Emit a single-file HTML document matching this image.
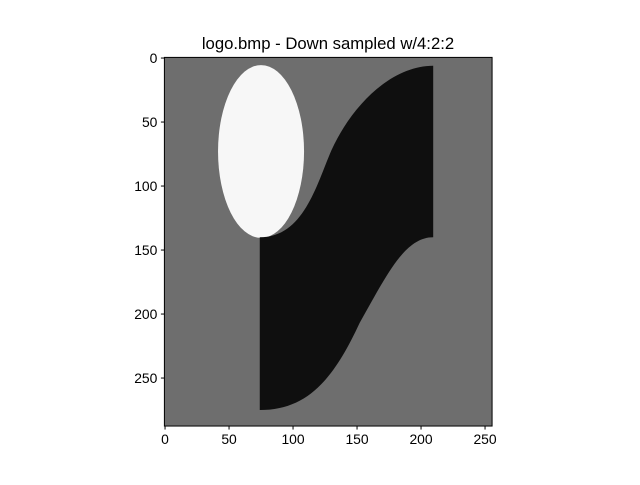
<!DOCTYPE html>
<html><head><meta charset="utf-8"><style>
body{margin:0;background:#fff;width:640px;height:480px;overflow:hidden;font-family:"Liberation Sans","DejaVu Sans",sans-serif}
</style></head><body>
<svg width="640" height="480" id="svg">
<text x="328" y="49" font-size="16.7" text-anchor="middle">logo.bmp - Down sampled w/4:2:2</text>
<g id="img"></g>
<g id="axes"></g>
</svg>
<script>
const xTicks=[0,50,100,150,200,250];
const yTicks=[0,50,100,150,200,250];
const imgW=256, imgH=288;
const ellipse={cx:75,cy:73,rx:33.6,ry:67.5};
const topCurve=[[74,140],[108,140],[118,100],[130,72],[147,35],[178,6],[209.5,6]];
const botCurve=[[209.5,140],[187,140],[173,170],[152,207],[132,250],[112,275],[74,275]];
const L=164.4,T=57.4,S=1.28;
const X=v=>L+(v+0.5)*S, Y=v=>T+(v+0.5)*S;
const ns="http://www.w3.org/2000/svg";
function mk(t,a,p){const e=document.createElementNS(ns,t);for(const k in a)e.setAttribute(k,a[k]);p.appendChild(e);return e;}
const g=document.getElementById('img'), ax=document.getElementById('axes');
const bg=mk('rect',{x:X(-0.5),y:Y(-0.5),width:imgW*S,height:imgH*S,fill:'#6e6e6e'},g);


const el=mk('ellipse',{cx:X(ellipse.cx),cy:Y(ellipse.cy),rx:ellipse.rx*S,ry:ellipse.ry*S,fill:'#f7f7f7'},g);


const P=p=>X(p[0])+','+Y(p[1]);
let d='M'+P(topCurve[0])+' C'+P(topCurve[1])+' '+P(topCurve[2])+' '+P(topCurve[3])+' C'+P(topCurve[4])+' '+P(topCurve[5])+' '+P(topCurve[6]);
d+=' L'+P(botCurve[0])+' C'+P(botCurve[1])+' '+P(botCurve[2])+' '+P(botCurve[3])+' C'+P(botCurve[4])+' '+P(botCurve[5])+' '+P(botCurve[6])+' Z';
const sh=mk('path',{d:d,fill:'#0f0f0f'},g);


const fr=mk('rect',{x:X(-0.5),y:Y(-0.5),width:imgW*S,height:imgH*S,fill:'none',stroke:'#000','stroke-width':1},ax);


const bottom=Y(imgH-0.5), left=X(-0.5);
xTicks.forEach(v=>{
 const tk=mk('line',{x1:X(v),x2:X(v),y1:bottom,y2:bottom+3.5,stroke:'#000'},ax);
 
 
 const t=mk('text',{x:X(v),y:bottom+18,'font-size':13.9,'text-anchor':'middle'},ax);t.textContent=v;
 
 
});
yTicks.forEach(v=>{
 const tk=mk('line',{x1:left-3.5,x2:left,y1:Y(v),y2:Y(v),stroke:'#000'},ax);
 
 
 const t=mk('text',{x:left-7,y:Y(v)+5,'font-size':13.9,'text-anchor':'end'},ax);t.textContent=v;
 
 
});
</script>
</body></html>
